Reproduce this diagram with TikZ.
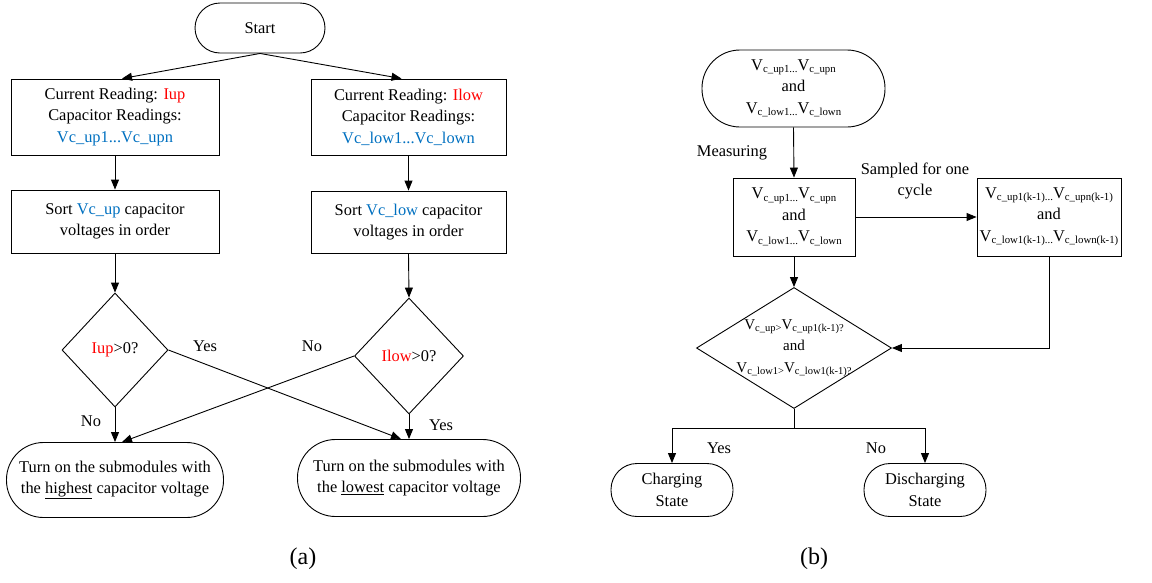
\documentclass[tikz,border=0pt]{standalone}
\usepackage{fontspec}
\setmainfont{Liberation Serif}
\usetikzlibrary{shapes.geometric,arrows.meta}
\definecolor{hired}{RGB}{255,0,0}
\definecolor{vblue}{RGB}{0,112,192}
% lowered, smaller subscript text for voltage names
\newcommand\sub[1]{\raisebox{-2.5pt}{\fontsize{10.8}{12}\selectfont #1}}
\newcommand\dsub[1]{\raisebox{-2.5pt}{\fontsize{10.5}{11}\selectfont #1}}
\tikzset{
  base/.style={draw, line width=0.9pt, inner sep=0pt, align=center,
    font=\fontsize{16.4}{21.5}\selectfont},
  proc/.style={base, rectangle},
  term/.style={base, rectangle, rounded corners=#1},
  dia/.style={draw, diamond, inner sep=0pt, line width=0.9pt},
  arr/.style={-{Triangle[length=10pt,width=8pt]}, line width=0.9pt},
  lbl/.style={inner sep=0pt, align=center, font=\fontsize{16.4}{21.5}\selectfont},
  figcap/.style={inner sep=0pt, font=\fontsize{24}{26}\selectfont}
}
\begin{document}
\begin{tikzpicture}[x=1pt,y=-1pt]
\useasboundingbox (0,0) rectangle (1152,582);

% ---------- (a) ----------
\node[term=25, minimum width=130, minimum height=50] (start) at (260,28) {Start};
\node[proc, minimum width=208, minimum height=76] (cl) at (115,117)
  {Current Reading: \textcolor{hired}{Iup}\\Capacitor Readings:\\\textcolor{vblue}{Vc\_up1...Vc\_upn}};
\node[proc, minimum width=195, minimum height=76] (cr) at (408.5,117)
  {Current Reading: \textcolor{hired}{Ilow}\\Capacitor Readings:\\\textcolor{vblue}{Vc\_low1...Vc\_lown}};
\node[proc, minimum width=208, minimum height=63] (sl) at (115,221.5)
  {Sort \textcolor{vblue}{Vc\_up} capacitor\\voltages in order};
\node[proc, minimum width=195, minimum height=62] (sr) at (408.5,222)
  {Sort \textcolor{vblue}{Vc\_low} capacitor\\voltages in order};
\node[dia, minimum width=106, minimum height=114] (dl) at (115,350) {};
\node[lbl] (dlt) at (dl) {\textcolor{hired}{Iup}>0?};
\node[dia, minimum width=109, minimum height=116] (dr) at (409,356) {};
\node[lbl] (drt) at (dr) {\textcolor{hired}{Ilow}>0?};
\node[term=37, minimum width=217, minimum height=75] (el) at (115,480)
  {Turn on the submodules with\\the \underline{highest} capacitor voltage};
\node[term=38, minimum width=223, minimum height=77] (er) at (409,478)
  {Turn on the submodules with\\the \underline{lowest} capacitor voltage};

\draw[arr] (start.south) -- ([xshift=7]cl.north);
\draw[arr] (start.south) -- ([xshift=-7]cr.north);
\draw[arr] (cl.south) -- (sl.north);
\draw[arr] (cr.south) -- (sr.north);
\draw[arr] (sl.south) -- (dl.north);
\draw[arr] (sr.south) -- (dr.north);
\draw[arr] (dl.south) -- (el.north);
\draw[arr] (dr.south) -- (er.north);
\draw[arr] (dl.east) -- ([xshift=-8]er.north);
\draw[arr] (dr.west) -- ([xshift=7]el.north);

\node[lbl] (yes1) at (205,346) {Yes};
\node[lbl] (no1) at (312,346) {No};
\node[lbl] (no2) at (91,421) {No};
\node[lbl] (yes2) at (441,425) {Yes};
\node[figcap] (capa) at (303,559) {(a)};

% ---------- (b) ----------
\node[term=38, minimum width=183, minimum height=77] (vt) at (793.5,88.5)
  {V\sub{c\_up1...}V\sub{c\_upn}\\and\\V\sub{c\_low1...}V\sub{c\_lown}};
\node[proc, minimum width=122, minimum height=78] (vm) at (794,217)
  {V\sub{c\_up1...}V\sub{c\_upn}\\and\\V\sub{c\_low1...}V\sub{c\_lown}};
\node[proc, minimum width=144, minimum height=78] (vk) at (1049,217)
  {V\sub{c\_up1(k-1)...}V\sub{c\_upn(k-1)}\\and\\V\sub{c\_low1(k-1)...}V\sub{c\_lown(k-1)}};
\node[dia, minimum width=195, minimum height=121] (dc) at (794,348) {};
\node[inner sep=0pt, align=center, font=\fontsize{15}{21.5}\selectfont] (dct) at (dc)
  {V\dsub{c\_up>}V\dsub{c\_up1(k-1)?}\\and\\V\dsub{c\_low1>}V\dsub{c\_low1(k-1)?}};
\node[term=26, minimum width=122, minimum height=53] (ch) at (672,490) {Charging\\State};
\node[term=26, minimum width=122, minimum height=53] (dch) at (925,490) {Discharging\\State};
\coordinate (br) at (794,428);

\draw[arr] (vt.south) -- (vm.north);
\draw[arr] (vm.east) -- (vk.west);
\draw[arr] (vm.south) -- (dc.north);
\draw[arr] (vk.south) |- (dc.east);
\draw[line width=0.9pt] (dc.south) -- (br);
\draw[arr] (br) -| (ch.north);
\draw[arr] (br) -| (dch.north);

\node[lbl] (meas) at (732,153) {Measuring};
\node[lbl] (samp) at (915,181) {Sampled for one\\cycle};
\node[lbl] (yes3) at (719,448) {Yes};
\node[lbl] (no3) at (876,448) {No};
\node[figcap] (capb) at (814,559) {(b)};
\end{tikzpicture}
\end{document}
